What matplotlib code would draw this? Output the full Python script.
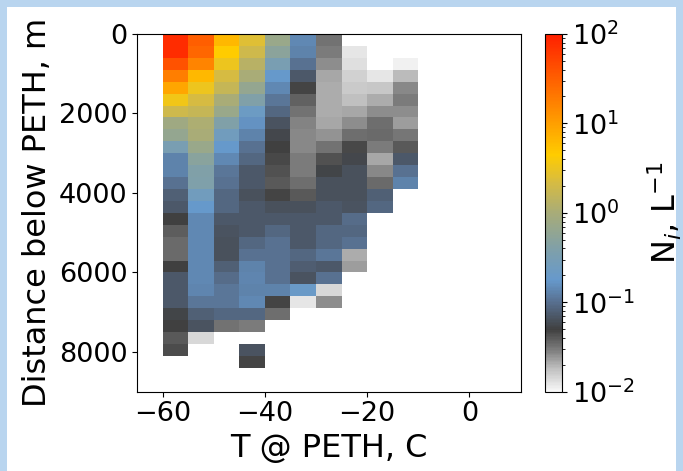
import numpy as np
import matplotlib
matplotlib.use("Agg")
import matplotlib.pyplot as plt
from matplotlib.colors import LinearSegmentedColormap, LogNorm
from matplotlib.patches import Rectangle

nan = np.nan

# bin edges: temperature at PETH (C) and distance below PETH (m)
t_edges = [-60, -55, -50, -45, -40, -35, -30, -25, -20, -15, -10]
depth_edges = [0, 300, 600, 900, 1200, 1500, 1800, 2100, 2400, 2700, 3000,
               3300, 3600, 3900, 4200, 4500, 4800, 5100, 5400, 5700, 6000,
               6300, 6600, 6900, 7200, 7500, 7800, 8100, 8400]

# ice number concentration N_i (L^-1) per depth bin, one list per temperature bin
n_m60 = [79, 79, 40, 18, 8.9, 3.5, 1.9, 0.83, 0.63, 0.32, 0.13, 0.13, 0.10, 0.079,
         0.071, 0.050, 0.038, 0.035, 0.035, 0.049, 0.071, 0.071, 0.071, 0.054,
         0.049, 0.040, 0.044, nan]
n_m55 = [32, 28, 16, 6.3, 3.2, 2.2, 1.6, 1.1, 1.0, 0.71, 0.50, 0.40, 0.38, 0.25,
         0.18, 0.14, 0.14, 0.14, 0.14, 0.14, 0.14, 0.135, 0.11, 0.079, 0.066,
         0.014, nan, nan]
n_m50 = [6.3, 4.5, 3.2, 2.2, 1.6, 1.0, 0.71, 0.40, 0.25, 0.18, 0.14, 0.11, 0.10,
         0.089, 0.089, 0.071, 0.066, 0.063, 0.063, 0.079, 0.095, 0.11, 0.11,
         0.089, 0.032, nan, nan, nan]
n_m45 = [2.5, 1.9, 1.3, 1.0, 0.63, 0.40, 0.22, 0.16, 0.13, 0.10, 0.089, 0.071,
         0.071, 0.063, 0.071, 0.071, 0.071, 0.089, 0.10, 0.13, 0.135, 0.13, 0.14,
         0.089, 0.030, nan, 0.066, 0.048]
n_m40 = [0.71, 0.52, 0.32, 0.18, 0.14, 0.11, 0.089, 0.066, 0.056, 0.049, 0.046,
         0.043, 0.040, 0.047, 0.063, 0.071, 0.089, 0.10, 0.10, 0.10, 0.10, 0.13,
         0.048, 0.033, nan, nan, nan, nan]
n_m35 = [0.14, 0.13, 0.10, 0.071, 0.047, 0.037, 0.032, 0.028, 0.027, 0.027, 0.030,
         0.030, 0.033, 0.040, 0.063, 0.071, 0.071, 0.071, 0.089, 0.076, 0.066,
         0.20, 0.012, nan, nan, nan, nan, nan]
n_m30 = [0.032, 0.030, 0.026, 0.022, 0.021, 0.021, 0.021, 0.022, 0.025, 0.032,
         0.043, 0.054, 0.063, 0.063, 0.071, 0.071, 0.089, 0.089, 0.11, 0.071,
         0.10, 0.014, 0.026, nan, nan, nan, nan, nan]
n_m25 = [nan, 0.012, 0.013, 0.015, 0.016, 0.018, 0.022, 0.026, 0.033, 0.046,
         0.056, 0.063, 0.063, 0.063, 0.066, 0.095, 0.089, 0.10, 0.021, 0.023,
         nan, nan, nan, nan, nan, nan, nan, nan]
n_m20 = [nan, nan, nan, 0.012, 0.017, 0.021, 0.026, 0.033, 0.035, 0.030, 0.022,
         0.027, 0.035, 0.079, 0.089, nan, nan, nan, nan, nan, nan, nan, nan,
         nan, nan, nan, nan, nan]
n_m15 = [nan, nan, 0.011, 0.019, 0.027, 0.030, 0.026, 0.023, 0.031, 0.040, 0.071,
         0.10, 0.13, nan, nan, nan, nan, nan, nan, nan, nan, nan, nan, nan,
         nan, nan, nan, nan]

columns = [n_m60, n_m55, n_m50, n_m45, n_m40, n_m35, n_m30, n_m25, n_m20, n_m15]
grid = np.ma.masked_invalid(np.array(columns, dtype=float).T)

# white -> gray -> dark -> blue -> olive -> gold -> orange -> red, on log10(N) from -2 to 2
cmap_nodes = [
    (-2.00, "#f8f8f8"),
    (-1.75, "#c0c0c0"),
    (-1.55, "#808080"),
    (-1.31, "#404040"),
    (-1.00, "#587090"),
    (-0.75, "#6699cc"),
    (-0.40, "#80a0a8"),
    (0.00, "#a8ac78"),
    (0.35, "#d8bc40"),
    (0.65, "#ffcc00"),
    (1.25, "#ff8000"),
    (2.00, "#ff2000"),
]
cmap = LinearSegmentedColormap.from_list(
    "ice", [((v + 2) / 4, c) for v, c in cmap_nodes])

fig = plt.figure(figsize=(6.83, 4.71), dpi=100)
fig.patch.set_facecolor("#b9d5ef")
fig.patches.append(Rectangle((7 / 683, 0), 669 / 683, 464 / 471,
                             transform=fig.transFigure, facecolor="white",
                             edgecolor="none", zorder=-10))

ax = fig.add_axes([0.2006, 0.1683, 0.5615, 0.7596])
cax = fig.add_axes([0.798, 0.1683, 0.0249, 0.7596])

mesh = ax.pcolormesh(t_edges, depth_edges, grid, cmap=cmap,
                     norm=LogNorm(vmin=1e-2, vmax=1e2))

ax.set_xlim(-65, 10)
ax.set_ylim(9000, 0)
ax.set_xticks([-60, -40, -20, 0])
ax.set_yticks([0, 2000, 4000, 6000, 8000])
ax.tick_params(labelsize=19.5)
ax.set_xlabel("T @ PETH, C", fontsize=23)
ax.set_ylabel("Distance below PETH, m", fontsize=23)

cb = fig.colorbar(mesh, cax=cax)
cb.ax.tick_params(labelsize=19.5)
cb.set_label("N$_i$, L$^{-1}$", fontsize=23, labelpad=8)

fig.savefig("out.png", dpi=100, facecolor=fig.get_facecolor())
